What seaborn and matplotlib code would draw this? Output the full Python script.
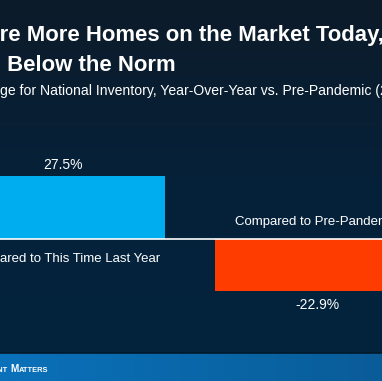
import numpy as np
import pandas as pd
import matplotlib
matplotlib.use("Agg")
import matplotlib.pyplot as plt
from matplotlib.colors import LinearSegmentedColormap
import seaborn as sns

# data
categories = ["Compared to This Time Last Year", "Compared to Pre-Pandemic"]
values = [27.5, -22.9]
value_labels = ["27.5%", "-22.9%"]
bar_colors = ["#00aeef", "#ff3c00"]

title_line1 = "There Are More Homes on the Market Today,"
title_line2 = "but Still Below the Norm"
subtitle = "Percent Change for National Inventory, Year-Over-Year vs. Pre-Pandemic (2017-2019)"
footer_words = ["Keeping", "Current", "Matters"]

W, H = 382, 381
FONT = "Liberation Sans"

sns.set_theme(style="white")
plt.rcParams["font.family"] = [FONT, "DejaVu Sans"]

fig = plt.figure(figsize=(W / 100, H / 100), dpi=100)

# background: dark navy vertical gradient + blue footer band
bg = fig.add_axes([0, 0, 1, 1])
bg.set_xlim(0, W)
bg.set_ylim(H, 0)
bg.axis("off")
navy = LinearSegmentedColormap.from_list("navy", ["#0d1b29", "#062139", "#03243e"])
bg.imshow(np.linspace(0, 1, 256).reshape(-1, 1), cmap=navy, aspect="auto",
          extent=(0, W, 353, 0), zorder=0)
band = LinearSegmentedColormap.from_list("band", ["#0b71ba", "#0967a9", "#095c98"])
bg.imshow(np.linspace(0, 1, 256).reshape(1, -1), cmap=band, aspect="auto",
          extent=(0, W, H, 353), zorder=0)
bg.axhline(352.5, color="#02192b", lw=1.2, zorder=1)

# main bar axes (extends past the figure edges, like the cropped original)
ax = fig.add_axes([-64 / W, 61.85 / H, 508 / W, 160.3 / H])
ax.patch.set_alpha(0)
df = pd.DataFrame({"cat": categories, "val": values})
sns.barplot(data=df, x="cat", y="val", hue="cat", palette=bar_colors,
            saturation=1, width=0.8, linewidth=0, legend=False, ax=ax)
ax.set_xlim(-0.5, 1.5)
ax.set_ylim(-35, 35)
ax.axhline(0, color="white", lw=1.2)
for cont, lab, pad in zip(ax.containers, value_labels, [3, 5]):
    ax.bar_label(cont, labels=[lab], padding=pad, color="white", fontsize=10)
ax.text(0, -8.8, categories[0], ha="center", va="center", color="white", fontsize=9.5)
ax.text(1, 7.6, categories[1], ha="center", va="center", color="white", fontsize=9.5)
ax.axis("off")

# titles, cut off on both sides like the original crop
renderer = fig.canvas.get_renderer()


def text_width(s, **kw):
    t = fig.text(0, 0, s, **kw)
    w = t.get_window_extent(renderer).width
    t.remove()
    return w


tkw = dict(fontsize=15.9, fontweight="bold", color="white")
x1 = -text_width("There A", **tkw)
fig.text(x1 / W, 1 - 41.5 / H, title_line1, va="baseline", **tkw)
x2 = 7 - (text_width("but Still B", **tkw) - text_width("B", **tkw))
fig.text(x2 / W, 1 - 71 / H, title_line2, va="baseline", **tkw)

skw = dict(fontsize=10.1, color="white")
x3 = -text_width("Percent Chan", **skw)
fig.text(x3 / W, 1 - 95 / H, subtitle, va="baseline", **skw)

# footer logo text in small caps, ending at x=48px
big = dict(fontsize=7.2, fontweight="bold", color="white")
small = dict(fontsize=5.4, fontweight="bold", color="white")
pieces = []
for i, word in enumerate(footer_words):
    pieces.append((word[0].upper(), big))
    pieces.append((word[1:].upper() + (" " if i < len(footer_words) - 1 else ""), small))
widths = [text_width(s.rstrip() + "x", **kw) - text_width("x", **kw)
          + (text_width("x x", **kw) - text_width("xx", **kw) if s.endswith(" ") else 0)
          for s, kw in pieces]
x = 48 - sum(widths)
for (s, kw), w in zip(pieces, widths):
    fig.text(x / W, 1 - 371.5 / H, s.rstrip(), va="baseline", **kw)
    x += w

fig.savefig("out.png", dpi=100)
